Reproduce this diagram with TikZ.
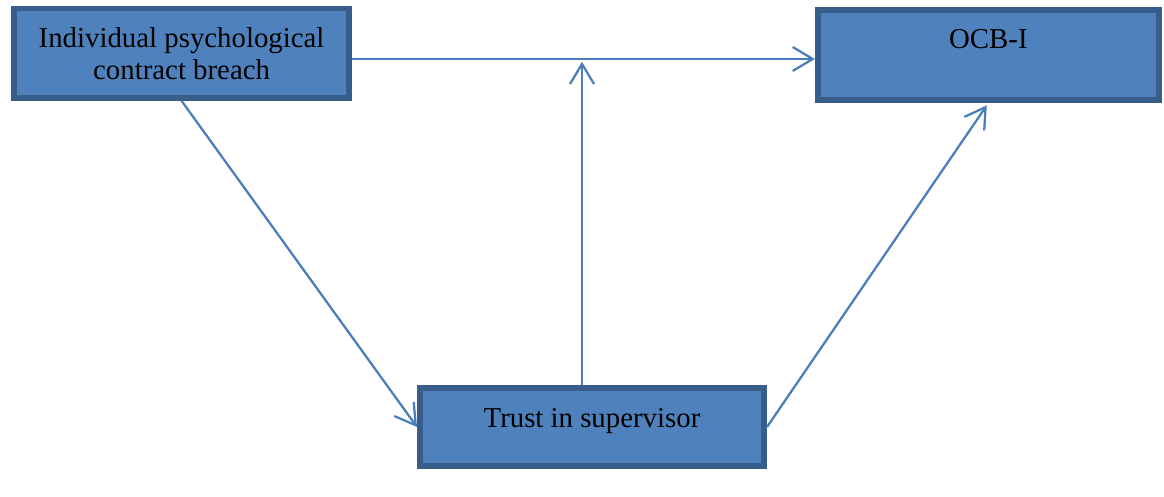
\documentclass[tikz,border=0pt]{standalone}
\usepackage{fontspec}
\setmainfont{Liberation Serif}
\usetikzlibrary{arrows.meta}
\definecolor{bxfill}{HTML}{4F81BD}
\definecolor{bxline}{HTML}{385D8A}
\definecolor{arcol}{HTML}{4A7EBB}
\tikzset{
	bx/.style={draw=bxline, fill=bxfill, line width=4pt, inner sep=0pt, align=center,
		font=\fontsize{20.5pt}{23pt}\selectfont},
	ar/.style={draw=arcol, line width=1.6pt, -{Straight Barb[length=0.5cm,width=0.6cm]}},
}
\begin{document}
\begin{tikzpicture}
	\useasboundingbox (0,0) rectangle (29.1,12.425);

	\node [bx, minimum width=8.385cm, minimum height=2.235cm] (breach) at (4.54,11.09)
		{Individual psychological\\contract breach};
	\node [bx, minimum width=8.535cm, minimum height=2.26cm, text height=0.5cm, text depth=0.8cm]
		(ocb) at (24.71,11.05) {OCB-I};
	\node [bx, minimum width=8.61cm, minimum height=1.96cm, text height=0.55cm, text depth=0.5cm]
		(trust) at (14.8,1.75) {Trust in supervisor};

	\coordinate (m) at (14.55,10.95);

	\draw [ar] (breach.east |- m) -- (ocb.west |- m);
	\draw [ar, shorten >=2pt] (trust.north -| m) -- (m);
	\draw [ar] (breach.south) -- (trust.west);
	\draw [ar, shorten >=2pt] (trust.east) -- (ocb.south);
\end{tikzpicture}
\end{document}
